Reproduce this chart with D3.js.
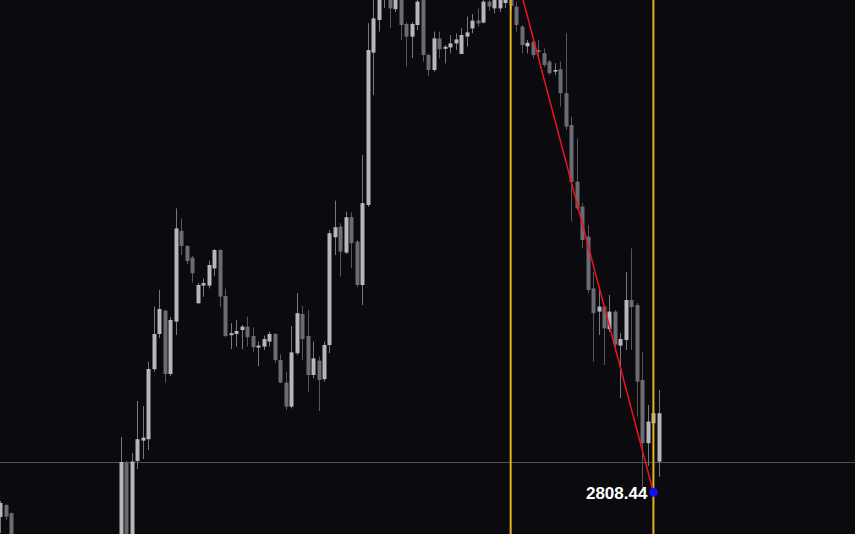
<!DOCTYPE html>
<html>
<head>
<meta charset="utf-8">
<script src="https://cdn.jsdelivr.net/npm/d3@7"></script>
<style>
  html, body { margin: 0; padding: 0; background: #0b0b0f; overflow: hidden; }
</style>
</head>
<body>
<div id="chart"></div>
<script>
// candle index (bar number), only the bars that show on screen
const idx = [0, 1, 2,
  22, 23, 24, 25, 26, 27, 28, 29, 30, 31, 32, 33, 34, 35, 36, 37, 38, 39, 40,
  41, 42, 43, 44, 45, 46, 47, 48, 49, 50, 51, 52, 53, 54, 55, 56, 57, 58, 59, 60,
  61, 62, 63, 64, 65, 66, 67, 68, 69, 70, 71, 72, 73, 74, 75, 76, 77, 78, 79, 80,
  81, 82, 83, 84, 85, 86, 87, 88, 89, 90, 91, 92, 93, 94, 95, 96, 97, 98, 99, 100,
  101, 102, 103, 104, 105, 106, 107, 108, 109, 110, 111, 112, 113, 114, 115, 116, 117, 118, 119, 120];

const open = [2802.25, 2805.25, 2803.2,
  2784, 2815.85, 2789, 2816.25, 2821.35, 2821.7, 2839.2, 2848, 2853.85, 2838, 2851.1, 2873.8, 2870, 2867.1, 2855.7, 2860.1, 2860.1, 2864.4, 2869,
  2857.5, 2847.7, 2848, 2849, 2849.85, 2847.5, 2844.6, 2844.85, 2846.1, 2848, 2841.5, 2835.85, 2829.85, 2843.2, 2853, 2847.5, 2837.75, 2841.35, 2836.7, 2845.25,
  2872.2, 2874.85, 2868.35, 2877.2, 2871.1, 2860.25, 2880.25, 2918.35, 2926.5, 2934, 2934, 2929.2, 2932.75, 2925.5, 2922.35, 2925.25, 2932.75, 2917.75, 2914, 2921.9,
  2919.3, 2919.65, 2920.65, 2918, 2922.35, 2924.4, 2926.35, 2925.85, 2931.1, 2929.4, 2929.4, 2930.75, 2940.25, 2929.85, 2924.85, 2919.9, 2921.1, 2919, 2918.2, 2916.1,
  2913.6, 2914.2, 2908.2, 2900.25, 2886.1, 2879.85, 2872.35, 2859.4, 2853.6, 2854.85, 2849.2, 2853.6, 2845.1, 2846.5, 2856.5, 2855.25, 2836.5, 2820.7, 2825.7, 2816.1];

const high = [2806.25, 2805.5, 2803.35,
  2822.25, 2816.25, 2818.2, 2831.25, 2830, 2841.1, 2854.85, 2859, 2854, 2852.2, 2879.4, 2876.9, 2870.25, 2867.5, 2860.7, 2861.9, 2866.35, 2869.2, 2869.2,
  2859.35, 2850.7, 2851.5, 2850.25, 2852.35, 2849.6, 2846.1, 2847.6, 2848.6, 2848.25, 2842.9, 2838.6, 2850, 2858.2, 2855, 2854, 2846.1, 2842.35, 2846.1, 2874,
  2881.35, 2875.7, 2878.6, 2878.45, 2871.5, 2892.75, 2925.7, 2932.75, 2937.75, 2941.5, 2936.5, 2935.25, 2934.5, 2926, 2926, 2932.25, 2934, 2918.15, 2923.6, 2923.6,
  2920.25, 2922.75, 2923.15, 2924.4, 2927.35, 2928, 2929.4, 2932, 2932.25, 2932.75, 2933.5, 2936.5, 2943.25, 2931.1, 2925.25, 2921.5, 2921.7, 2921.5, 2919.4, 2916.5,
  2915.7, 2916.1, 2923.2, 2902.35, 2896.9, 2880.75, 2875.25, 2863.6, 2859, 2855.25, 2857.75, 2854, 2848.2, 2863.45, 2869.4, 2855.75, 2843.6, 2830.25, 2831, 2834];

const low = [2798.25, 2801.5, 2794,
  2781.5, 2784, 2787.75, 2814.25, 2816.75, 2819, 2838.6, 2846.95, 2835.85, 2837.5, 2847.75, 2867.75, 2865.5, 2860.85, 2855.5, 2857.35, 2859.4, 2862.5, 2854.7,
  2847.2, 2844.2, 2844.85, 2844.2, 2844.85, 2843.6, 2840, 2844, 2844.85, 2840.8, 2835.7, 2829, 2829.4, 2842.75, 2841.5, 2833.6, 2836.9, 2828.75, 2836.1, 2843.25,
  2867.75, 2862.35, 2868, 2864.5, 2859.75, 2855.25, 2879.75, 2907.75, 2923.6, 2929.5, 2924.4, 2928.5, 2921.5, 2914.85, 2916.95, 2924, 2916.1, 2912.5, 2913.6, 2916.9,
  2915.65, 2918.15, 2919, 2918, 2919.85, 2923.15, 2924.85, 2925.65, 2928.85, 2928.15, 2928.5, 2929.5, 2929, 2923.6, 2918.15, 2918.15, 2916.9, 2917.25, 2914.75, 2912.75,
  2912.75, 2904.85, 2899, 2876.1, 2879, 2869.4, 2858.15, 2841.1, 2847.75, 2840.25, 2848.5, 2843.6, 2831.95, 2844, 2844, 2827.35, 2809.5, 2815, 2808.44, 2812.3];

const close = [2805.75, 2802.35, 2795.25,
  2816, 2786.5, 2816.1, 2821.7, 2822.1, 2839.25, 2848, 2854.25, 2838, 2851.5, 2874.4, 2870, 2866.25, 2863.2, 2860.25, 2860.75, 2865.25, 2869, 2857.35,
  2847.5, 2848.2, 2848.75, 2849.85, 2847.2, 2844.7, 2845.1, 2846.75, 2848, 2841.5, 2835.85, 2829.85, 2843.4, 2853.2, 2846.75, 2837.75, 2841.9, 2836.5, 2845.25, 2873.2,
  2874.7, 2868.6, 2877.2, 2870.7, 2860.25, 2880.7, 2919, 2926.9, 2935.25, 2939, 2929.4, 2933.5, 2925.25, 2922.35, 2925.5, 2931.1, 2917.75, 2914, 2921.9, 2919.2,
  2919.8, 2920.65, 2921.65, 2922.75, 2923.4, 2926.35, 2925.65, 2931.1, 2929.85, 2932, 2932.25, 2934, 2930, 2925.25, 2920.25, 2920.8, 2917.75, 2918.5, 2915.25, 2913.2,
  2914, 2908.2, 2899.85, 2886, 2879.4, 2871.5, 2859, 2853.2, 2854.85, 2849.4, 2853.6, 2845.35, 2846.75, 2856.5, 2854.75, 2836.1, 2820.7, 2826.1, 2828.2, 2828.2];

// markers on the chart
const vLines = [93, 119];                 // the two yellow verticals
const trendFrom = { i: 93, p: 2943.25 };  // swing high (above the view)
const trendTo = { i: 119, p: 2808.44 };   // swing low
const priceLine = 2816;                   // thin horizontal price line
const lowLabel = "2808.44";

var width = 855;
var height = 534;

let candles = [];
for (let k = 0; k < idx.length; k++) {
    candles.push({ i: idx[k], o: open[k], h: high[k], l: low[k], c: close[k] });
}

var svg = d3.select('#chart')
    .append('svg')
    .attr('width', width)
    .attr('height', height)
    .style('display', 'block');

svg.append('rect')
    .attr('width', width)
    .attr('height', height)
    .attr('fill', '#0b0b0f');

let x_scale = d3.scaleLinear()
    .domain([0, 120])
    .range([0.07, 658.9]);

let y_scale = d3.scaleLinear()
    .domain([2798, 2931.5])
    .range([height, 0]);

const bodyW = 4;
const upCol = '#b6b6be';
const downCol = '#6b6b71';

// horizontal price line, under the candles
svg.append('line')
    .attr('x1', 0)
    .attr('x2', width)
    .attr('y1', Math.round(y_scale(priceLine)) + 0.5)
    .attr('y2', Math.round(y_scale(priceLine)) + 0.5)
    .attr('stroke', '#505055')
    .attr('stroke-width', 1);

let g = svg.append('g');

let candle = g.selectAll('g.candle')
    .data(candles)
    .enter()
    .append('g')
    .attr('class', 'candle');

candle.append('line')
    .attr('x1', d => Math.round(x_scale(d.i)) + 0.5)
    .attr('x2', d => Math.round(x_scale(d.i)) + 0.5)
    .attr('y1', d => y_scale(d.h))
    .attr('y2', d => y_scale(d.l))
    .attr('stroke', d => d.c >= d.o ? '#77777e' : '#56565c')
    .attr('stroke-width', 1);

candle.append('rect')
    .attr('x', d => Math.round(x_scale(d.i)) + 0.5 - bodyW / 2)
    .attr('y', d => y_scale(Math.max(d.o, d.c)))
    .attr('width', bodyW)
    .attr('height', d => Math.max(1.5, Math.abs(y_scale(d.o) - y_scale(d.c))))
    .attr('fill', d => d.c >= d.o ? upCol : downCol);

// yellow verticals
svg.selectAll('line.vmark')
    .data(vLines)
    .enter()
    .append('line')
    .attr('class', 'vmark')
    .attr('x1', d => x_scale(d))
    .attr('x2', d => x_scale(d))
    .attr('y1', 0)
    .attr('y2', height)
    .attr('stroke', '#e0b424')
    .attr('stroke-width', 2);

// red trend line from swing high to swing low
svg.append('line')
    .attr('x1', x_scale(trendFrom.i))
    .attr('y1', y_scale(trendFrom.p))
    .attr('x2', x_scale(trendTo.i))
    .attr('y2', y_scale(trendTo.p))
    .attr('stroke', '#e8141e')
    .attr('stroke-width', 1.5);

svg.append('circle')
    .attr('cx', x_scale(trendTo.i))
    .attr('cy', y_scale(trendTo.p))
    .attr('r', 4.5)
    .attr('fill', '#1010f0');

svg.append('text')
    .attr('x', x_scale(trendTo.i) - 6)
    .attr('y', y_scale(trendTo.p) + 7)
    .attr('text-anchor', 'end')
    .attr('font-family', 'Liberation Sans, Arial, sans-serif')
    .attr('font-weight', 'bold')
    .attr('font-size', '17px')
    .attr('fill', '#ffffff')
    .attr('stroke', '#0b0b0f')
    .attr('stroke-width', 0.6)
    .attr('paint-order', 'stroke')
    .text(lowLabel);
</script>
</body>
</html>
